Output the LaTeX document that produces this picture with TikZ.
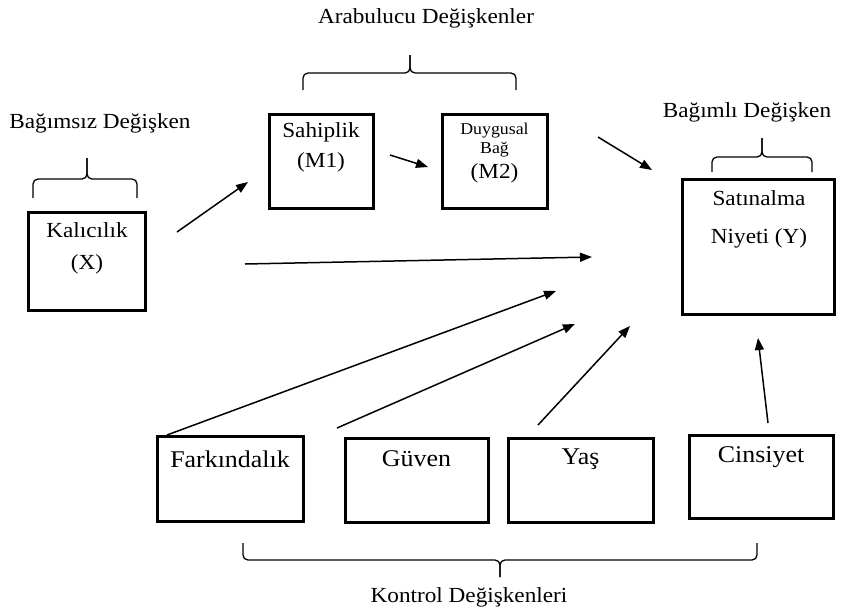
\documentclass[tikz,border=0pt]{standalone}
\usepackage{fontspec}
\setmainfont[FakeStretch=1.08]{Liberation Serif}
\usetikzlibrary{arrows.meta}
\begin{document}
\begin{tikzpicture}[x=1pt,y=-1pt,
 box/.style={draw,line width=3pt,inner sep=0pt,outer sep=0pt},
 lbl/.style={inner sep=0pt,font=\fontsize{21.5}{25}\selectfont},
 big/.style={inner sep=0pt,font=\fontsize{24}{27}\selectfont},
 small/.style={inner sep=0pt,font=\fontsize{16.5}{19}\selectfont},
 arr/.style={line width=1.5pt,-{Triangle[length=12pt,width=9pt]}},
 brace/.style={line width=1.3pt,rounded corners=5pt}]
\useasboundingbox (0,0) rectangle (841,614);

% boxes
\node[box,minimum width=117pt,minimum height=98pt] (X) at (86.5,261) {};
\node[box,minimum width=104pt,minimum height=94pt] (M1) at (321,161) {};
\node[box,minimum width=105pt,minimum height=94pt] (M2) at (494.5,161) {};
\node[box,minimum width=152pt,minimum height=135pt] (Y) at (758,246.5) {};
\node[box,minimum width=146pt,minimum height=85pt] (F) at (230,478.5) {};
\node[box,minimum width=143pt,minimum height=84pt] (G) at (416.5,480) {};
\node[box,minimum width=145pt,minimum height=84pt] (A) at (580.5,480) {};
\node[box,minimum width=144pt,minimum height=83pt] (C) at (761,476.5) {};

% box texts
\node[lbl] (tX1) at (87,230) {Kalıcılık};
\node[lbl] (tX2) at (87,264) {(X)};
\node[lbl] (tM11) at (321,132) {Sahiplik};
\node[lbl] (tM12) at (321,162) {(M1)};
\node[small] (tM21) at (494.5,131) {Duygusal};
\node[small] (tM22) at (494.5,150) {Bağ};
\node[lbl] (tM23) at (494.5,173) {(M2)};
\node[lbl] (tY1) at (759,198) {Satınalma};
\node[lbl] (tY2) at (759,238) {Niyeti (Y)};
\node[big] (tF) at (230,459) {Farkındalık};
\node[big] (tG) at (416.5,459) {Güven};
\node[big] (tA) at (580.5,459) {Yaş};
\node[big] (tC) at (761,457) {Cinsiyet};

% group labels
\node[lbl] (gX) at (100,123) {Bağımsız Değişken};
\node[lbl] (gM) at (426,18) {Arabulucu Değişkenler};
\node[lbl] (gY) at (747,112) {Bağımlı Değişken};
\node[lbl] (gC) at (469,597) {Kontrol Değişkenleri};

% braces
\draw[brace] (33,198) -- (33,179) -- (87,179) -- (87,158);
\draw[brace] (137,198) -- (137,179) -- (87,179) -- (87,158);
\draw[brace] (303,90) -- (303,73) -- (410,73) -- (410,55);
\draw[brace] (516,90) -- (516,73) -- (410,73) -- (410,55);
\draw[brace] (712,172) -- (712,157) -- (762,157) -- (762,138);
\draw[brace] (812,172) -- (812,157) -- (762,157) -- (762,138);
\draw[brace] (243,543) -- (243,560) -- (500,560) -- (500,577);
\draw[brace] (757,543) -- (757,560) -- (500,560) -- (500,577);

% arrow endpoints
\coordinate (s1) at (177,232); \coordinate (e1) at (248,182);
\coordinate (s2) at (390,155); \coordinate (e2) at (428,167);
\coordinate (s3) at (598,137); \coordinate (e3) at (652,170);
\coordinate (s4) at (245,264); \coordinate (e4) at (592,257);
\coordinate (s5) at (167,435); \coordinate (e5) at (556,291);
\coordinate (s6) at (337,428); \coordinate (e6) at (575,324);
\coordinate (s7) at (538,425); \coordinate (e7) at (630,326);
\coordinate (s8) at (768,423); \coordinate (e8) at (758,338);

\draw[arr] (s1) -- (e1);
\draw[arr] (s2) -- (e2);
\draw[arr] (s3) -- (e3);
\draw[arr] (s4) -- (e4);
\draw[arr] (s5) -- (e5);
\draw[arr] (s6) -- (e6);
\draw[arr] (s7) -- (e7);
\draw[arr] (s8) -- (e8);
\end{tikzpicture}
\end{document}
